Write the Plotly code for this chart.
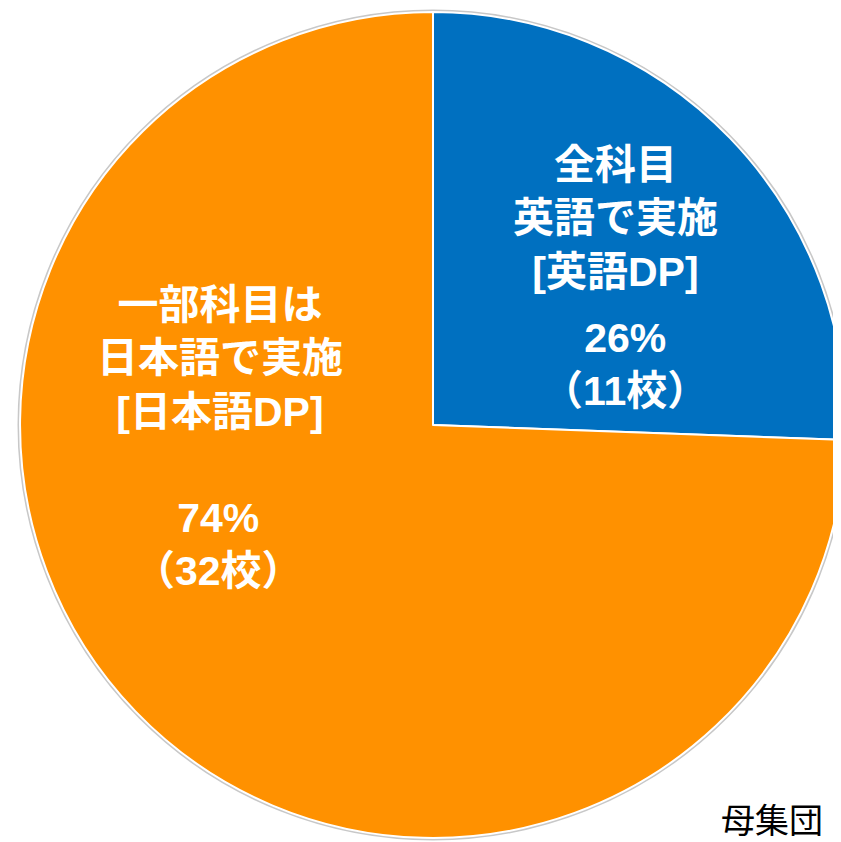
import plotly.graph_objects as go

# データ
labels = ['全科目<br>英語で実施<br>[英語DP]', '一部科目は<br>日本語で実施<br>[日本語DP]']
schools = [11, 32]
colors = ['#0070C0', '#FF9100']
note = '母集団'

total = sum(schools)
pcts = [round(v / total * 100) for v in schools]

# ページ余白(8px)の分だけずらす
off = 8

fig = go.Figure()
fig.add_trace(go.Pie(
    values=schools,
    labels=['英語DP', '日本語DP'],
    sort=False,
    direction='clockwise',
    rotation=0,
    marker=dict(colors=colors, line=dict(color='white', width=2)),
    textinfo='none',
    hoverinfo='label+value+percent',
    showlegend=False,
    domain=dict(x=[0.0143, 0.9964], y=[0.0143, 0.9952]),
))

font_w = dict(family='Liberation Sans, Noto Sans CJK JP', size=41, color='white')

# 英語DP
fig.add_annotation(x=615, y=218, text='<b>' + labels[0] + '</b>', font=font_w)
fig.add_annotation(x=625, y=364, text='<b>%d%%<br>（%d校）</b>' % (pcts[0], schools[0]), font=font_w)
# 日本語DP
fig.add_annotation(x=220, y=358, text='<b>' + labels[1] + '</b>', font=font_w)
fig.add_annotation(x=218, y=544, text='<b>%d%%<br>（%d校）</b>' % (pcts[1], schools[1]), font=font_w)
fig.add_annotation(x=772, y=818, text=note,
                   font=dict(family='Noto Sans CJK JP', size=34, color='black'))
fig.update_annotations(xref='x', yref='y', showarrow=False, align='center')

# 外周の灰色の縁
fig.add_shape(type='circle', xref='x', yref='y', x0=19, x1=847, y0=11, y1=839,
              line=dict(color='#C8C8C8', width=3), layer='below')

fig.update_xaxes(range=[off, 841 + off], visible=False)
fig.update_yaxes(range=[842 + off, off], visible=False)
fig.update_layout(width=841, height=842, margin=dict(l=0, r=0, t=0, b=0),
                  paper_bgcolor='white', plot_bgcolor='white')
fig.write_html('out.html')
